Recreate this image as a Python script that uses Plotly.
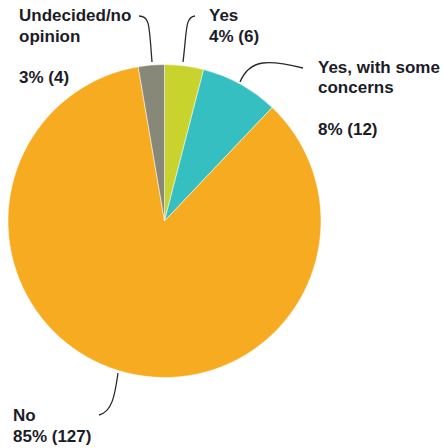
import plotly.graph_objects as go

labels = ["Yes", "Yes, with some concerns", "No", "Undecided/no opinion"]
values = [6, 12, 127, 4]
colors = ["#C9D32D", "#36BFC1", "#F6AB20", "#878877"]

W, H = 443, 448

def px(x):
    return x / W

def py(y):
    return 1 - y / H

fig = go.Figure(go.Pie(
    labels=labels, values=values, sort=False, direction="clockwise", rotation=0,
    marker=dict(colors=colors, line=dict(color="white", width=0.5)),
    textinfo="none", hoverinfo="label+value+percent",
    domain=dict(x=[px(8), px(321)], y=[py(380), py(62)]),
    showlegend=False,
))

font = dict(family="Liberation Sans, Arial, sans-serif", size=17, color="#1c1c28")
texts = [
    (17, 4, "<b>Undecided/no</b>"),
    (17, 25, "<b>opinion</b>"),
    (17, 66, "<b>3% (4)</b>"),
    (207, 4, "<b>Yes</b>"),
    (207, 25, "<b>4% (6)</b>"),
    (316, 56, "<b>Yes, with some</b>"),
    (316, 76, "<b>concerns</b>"),
    (316, 118, "<b>8% (12)</b>"),
    (11, 404, "<b>No</b>"),
    (11, 425, "<b>85% (127)</b>"),
]
annotations = [dict(x=px(x), y=py(y), xref="paper", yref="paper", text=t, showarrow=False,
                    xanchor="left", yanchor="top", font=font, align="left") for x, y, t in texts]

def path(pts):
    (x0, y0), (c1x, c1y), (c2x, c2y), (x1, y1) = pts
    return (f"M {px(x0)},{py(y0)} C {px(c1x)},{py(c1y)} {px(c2x)},{py(c2y)} {px(x1)},{py(y1)}")

lines = [
    [(139, 16), (150, 16), (149, 25), (152, 62)],
    [(195, 16), (185, 17), (187, 30), (183, 62)],
    [(303, 68), (270, 60), (250, 58), (240, 82)],
    [(99, 415), (112, 412), (115, 395), (118, 373)],
]
shapes = [dict(type="path", xref="paper", yref="paper", path=path(p),
               line=dict(color="#2a2a2a", width=1.3)) for p in lines]

fig.update_layout(width=W, height=H, margin=dict(l=0, r=0, t=0, b=0),
                  paper_bgcolor="white", plot_bgcolor="white",
                  annotations=annotations, shapes=shapes)
fig.write_html("out.html")
